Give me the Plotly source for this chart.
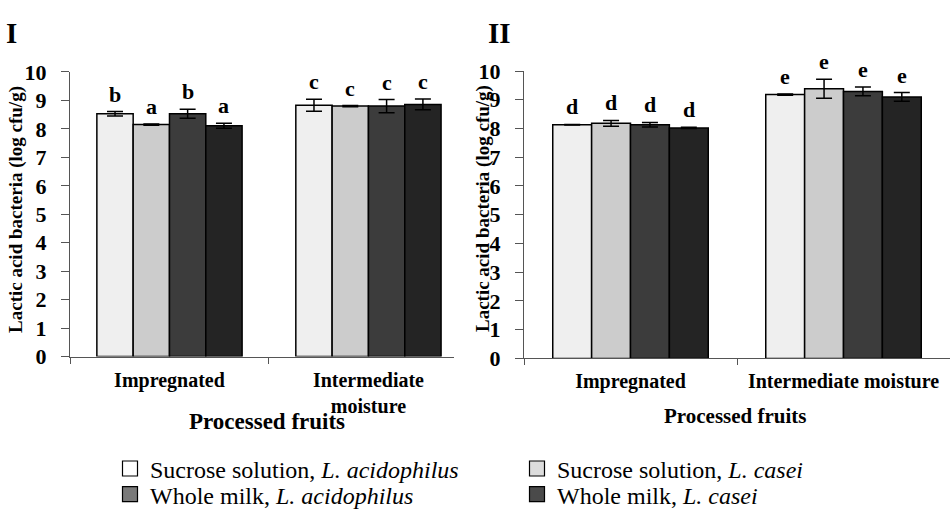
import plotly.graph_objects as go

# ---------------- data ----------------
series_names = [
    "Sucrose solution, <i>L. acidophilus</i>",
    "Sucrose solution, <i>L. casei</i>",
    "Whole milk, <i>L. acidophilus</i>",
    "Whole milk, <i>L. casei</i>",
]
cats_I = ["Impregnated", "Intermediate<br>moisture"]
cats_II = ["Impregnated", "Intermediate moisture"]

# Panel I values (Impregnated, Intermediate moisture)
I_sa = [8.53, 8.83]
I_sc = [8.15, 8.80]
I_wa = [8.53, 8.80]
I_wc = [8.11, 8.86]
I_sa_err = [0.08, 0.21]
I_sc_err = [0.02, 0.02]
I_wa_err = [0.16, 0.23]
I_wc_err = [0.09, 0.19]
I_letters = [["b", "c"], ["a", "c"], ["b", "c"], ["a", "c"]]

# Panel II values
II_sa = [8.13, 9.18]
II_sc = [8.18, 9.38]
II_wa = [8.13, 9.29]
II_wc = [8.02, 9.10]
II_sa_err = [0.01, 0.02]
II_sc_err = [0.10, 0.33]
II_wa_err = [0.08, 0.15]
II_wc_err = [0.02, 0.15]
II_letters = [["d", "e"], ["d", "e"], ["d", "e"], ["d", "e"]]

y_ticks = list(range(0, 11))
y_ticktext = ["<b>%d</b>" % v for v in y_ticks]

# ---------------- style ----------------
bar_colors = ["#efefef", "#cccccc", "#3c3c3c", "#242424"]
legend_colors = ["#ffffff", "#dcdcdc", "#7a7a7a", "#4a4a4a"]
FONT = "Liberation Serif, Times New Roman, serif"
AX = "#555555"
BARGAP = 0.27

fig = go.Figure()

panels = [
    ("x", "y", cats_I, [I_sa, I_sc, I_wa, I_wc], [I_sa_err, I_sc_err, I_wa_err, I_wc_err], I_letters),
    ("x2", "y2", cats_II, [II_sa, II_sc, II_wa, II_wc], [II_sa_err, II_sc_err, II_wa_err, II_wc_err], II_letters),
]

annotations = []
n = 4
bw = (1 - BARGAP) / n
for xa, ya, cats, vals, errs, letters in panels:
    for i in range(n):
        fig.add_trace(go.Bar(
            x=cats, y=vals[i], xaxis=xa, yaxis=ya, showlegend=False,
            marker=dict(color=bar_colors[i], line=dict(color="#000000", width=1.5)),
            error_y=dict(type="data", array=errs[i], visible=True, color="#000000",
                         thickness=1.5, width=8),
            name=series_names[i],
        ))
        for j in range(len(cats)):
            xpos = j - (1 - BARGAP) / 2 + bw * (i + 0.5)
            annotations.append(dict(
                x=xpos, y=vals[i][j] + errs[i][j], xref=xa, yref=ya,
                text="<b>%s</b>" % letters[i][j], showarrow=False, yanchor="bottom", yshift=3,
                font=dict(family=FONT, size=22, color="#000000"),
            ))

# legend-only marker traces (on hidden axes)
legend_ids = ["legend", "legend2", "legend3", "legend4"]
for i in range(n):
    fig.add_trace(go.Scatter(
        x=[None], y=[None], mode="markers", xaxis="x3", yaxis="y3",
        name=series_names[i], legend=legend_ids[i],
        marker=dict(symbol="square", size=15, color=legend_colors[i],
                    line=dict(color="#000000", width=1.2)),
    ))

ytick_font = dict(family=FONT, size=22, color="#000000")
xtick_font = dict(family=FONT, size=20, color="#000000", weight="bold")
common_y = dict(range=[0, 10], tickvals=y_ticks, ticktext=y_ticktext, ticks="outside", ticklen=8,
                tickcolor=AX, showline=True, linecolor=AX, linewidth=1, showgrid=False,
                zeroline=False, tickfont=ytick_font, ticklabelstandoff=10, fixedrange=True)
common_x = dict(type="category", ticks="outside", ticklen=6, tickcolor=AX, tickson="boundaries",
                showline=True, linecolor=AX, linewidth=1, showgrid=False, zeroline=False,
                tickfont=xtick_font, ticklabelstandoff=5, fixedrange=True)

# panel titles and axis titles
def ann_px(text, px, py, size, angle=0):
    return dict(text="<b>%s</b>" % text, x=px / 950, y=(519 - py) / 519, xref="paper", yref="paper",
                showarrow=False, xanchor="center", yanchor="middle", textangle=angle,
                font=dict(family=FONT, size=size, color="#000000"))

annotations += [
    ann_px("I", 11, 22, 29),
    ann_px("II", 499, 22, 29),
    ann_px("Lactic acid bacteria (log cfu/g)", 16, 208, 19, angle=-90),
    ann_px("Lactic acid bacteria (log cfu/g)", 483, 207, 19, angle=-90),
    ann_px("Processed fruits", 267, 430, 23),
    ann_px("Processed fruits", 735, 424, 21),
]

legend_pos = [(110, 480), (517, 480), (110, 507), (517, 507)]
legend_layout = {}
for lid, (px, py) in zip(legend_ids, legend_pos):
    legend_layout[lid] = dict(
        x=px / 950, y=(519 - py) / 519, xanchor="left", yanchor="middle",
        bgcolor="rgba(0,0,0,0)", borderwidth=0,
        font=dict(family=FONT, size=24, color="#000000"),
    )

fig.update_layout(
    width=950, height=519,
    margin=dict(l=0, r=0, t=0, b=0),
    paper_bgcolor="#ffffff", plot_bgcolor="#ffffff",
    barmode="group", bargap=BARGAP, bargroupgap=0,
    font=dict(family=FONT, color="#000000"),
    xaxis=dict(domain=[70 / 950, 454 / 950], anchor="y", range=[-0.5, 1.43], **common_x),
    yaxis=dict(domain=[(519 - 362) / 519, (519 - 63) / 519], anchor="x", **common_y),
    xaxis2=dict(domain=[524 / 950, 1.0], anchor="y2", range=[-0.5, 1.5], **common_x),
    yaxis2=dict(domain=[(519 - 364) / 519, (519 - 62) / 519], anchor="x2", **common_y),
    xaxis3=dict(domain=[0, 0.01], anchor="y3", visible=False),
    yaxis3=dict(domain=[0, 0.01], anchor="x3", visible=False),
    annotations=annotations,
    **legend_layout,
)

fig.write_html(
    "out.html",
    config={"displayModeBar": False},
    post_script="document.body.style.margin='0';document.documentElement.style.overflow='hidden';",
)
